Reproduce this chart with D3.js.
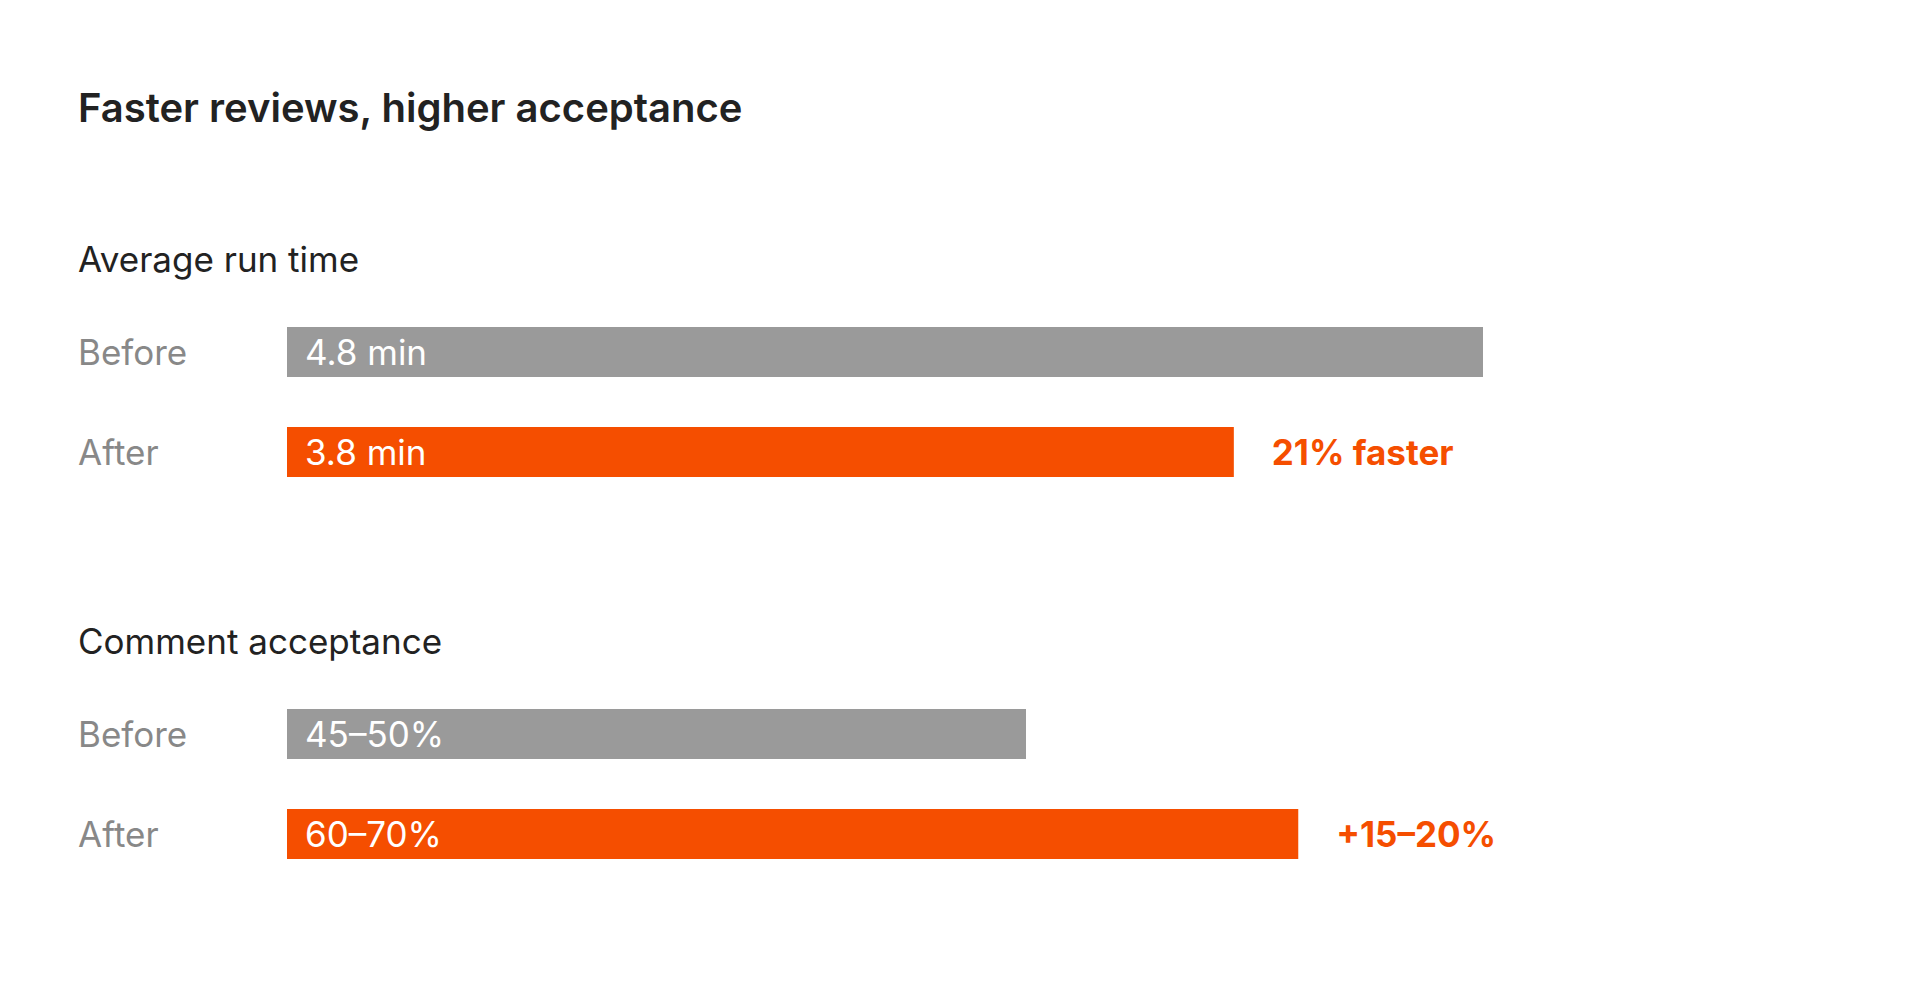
<!DOCTYPE html>
<html><head><meta charset="utf-8">
<script src="https://cdn.jsdelivr.net/npm/d3@7"></script>
<style>body{margin:0;background:#fff}text{font-family:Inter,"Noto Sans",sans-serif}</style>
</head><body>
<svg id="c" width="1920" height="1000"></svg>
<script>
const title = "Faster reviews, higher acceptance";
const sections = ["Average run time", "Comment acceptance"];
const categories = ["Before", "After"];
const runTimeValues = [4.8, 3.8];
const runTimeLabels = ["4.8 min", "3.8 min"];
const acceptanceValues = [47.5, 65];
const acceptanceLabels = ["45–50%", "60–70%"];
const annotations = ["21% faster", "+15–20%"];

const svg = d3.select("#c");
const gray = "#9a9a9a", orange = "#f54e00";
svg.append("text").attr("x",78).attr("y",122).attr("font-size",40).attr("font-weight",600).attr("fill","#222").text(title);

const groups = [
  {title:sections[0], vals:runTimeValues, labels:runTimeLabels, ann:annotations[0], top:272, x:d3.scaleLinear().domain([0,4.8]).range([287,1483])},
  {title:sections[1], vals:acceptanceValues, labels:acceptanceLabels, ann:annotations[1], top:654, x:d3.scaleLinear().domain([0,47.5]).range([287,1026])}
];
groups.forEach(gr=>{
  const g = svg.append("g");
  g.append("text").attr("x",78).attr("y",gr.top).attr("font-size",35).attr("fill","#222").text(gr.title);
  const y = d3.scaleBand().domain(categories).range([gr.top+45, gr.top+215]).paddingInner(0.5).paddingOuter(0.1);
  categories.forEach((c,i)=>{
    const yy = y(c), h = y.bandwidth();
    g.append("rect").attr("x",gr.x(0)).attr("y",yy).attr("width",gr.x(gr.vals[i])-gr.x(0)).attr("height",h).attr("fill",i?orange:gray);
    g.append("text").attr("x",78).attr("y",yy+h/2).attr("dy","0.36em").attr("font-size",35).attr("fill","#888").text(c);
    g.append("text").attr("x",gr.x(0)+18).attr("y",yy+h/2).attr("dy","0.36em").attr("font-size",35).attr("fill","#fff").text(gr.labels[i]);
    if(i===1) g.append("text").attr("x",gr.x(gr.vals[i])+38).attr("y",yy+h/2).attr("dy","0.36em").attr("font-size",35).attr("font-weight",700).attr("fill",orange).text(gr.ann);
  });
});
</script></body></html>
